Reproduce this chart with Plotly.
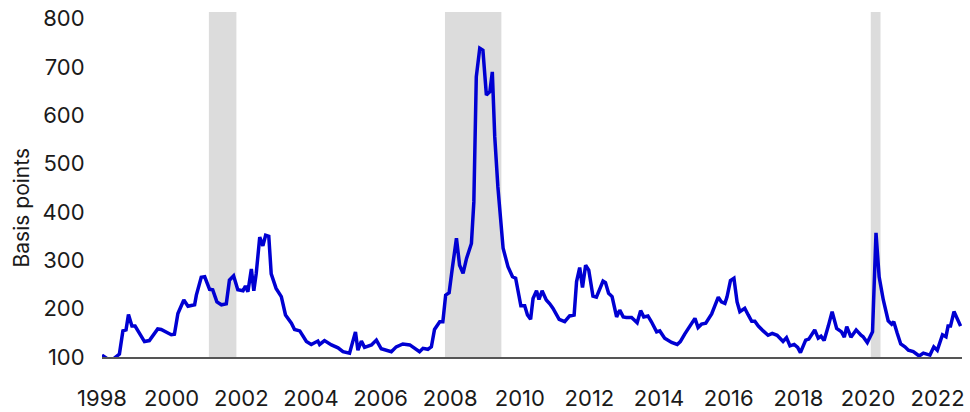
import plotly.graph_objects as go

# decimal year, spread in basis points
years = [
    1998.00, 1998.14, 1998.31, 1998.50, 1998.60, 1998.69, 1998.76, 1998.86, 1998.95,
    1999.22, 1999.36, 1999.60, 1999.70, 1999.99, 2000.08, 2000.18, 2000.35, 2000.47,
    2000.66, 2000.71, 2000.85, 2000.95, 2001.09, 2001.18, 2001.30, 2001.43, 2001.57,
    2001.66, 2001.78, 2001.90, 2002.05, 2002.12, 2002.19, 2002.29, 2002.36, 2002.43,
    2002.53, 2002.62, 2002.70, 2002.79, 2002.86, 2003.00, 2003.15, 2003.27, 2003.44,
    2003.53, 2003.68, 2003.87, 2004.01, 2004.20, 2004.25, 2004.39, 2004.59, 2004.78,
    2004.92, 2005.11, 2005.28, 2005.35, 2005.45, 2005.54, 2005.74, 2005.88, 2006.02,
    2006.17, 2006.31, 2006.45, 2006.64, 2006.84, 2006.98, 2007.12, 2007.22, 2007.36,
    2007.46, 2007.55, 2007.70, 2007.79, 2007.87, 2007.97, 2008.06, 2008.18, 2008.27,
    2008.37, 2008.47, 2008.61, 2008.68, 2008.75, 2008.85, 2008.94, 2009.04, 2009.14,
    2009.21, 2009.28, 2009.37, 2009.52, 2009.66, 2009.79, 2009.88, 2009.98, 2010.03,
    2010.14, 2010.22, 2010.31, 2010.38, 2010.48, 2010.55, 2010.64, 2010.76, 2010.86,
    2010.95, 2011.13, 2011.29, 2011.43, 2011.56, 2011.63, 2011.72, 2011.80, 2011.89,
    2011.98, 2012.10, 2012.20, 2012.30, 2012.39, 2012.46, 2012.55, 2012.65, 2012.78,
    2012.87, 2012.97, 2013.06, 2013.21, 2013.37, 2013.47, 2013.56, 2013.68, 2013.78,
    2013.93, 2014.02, 2014.16, 2014.36, 2014.52, 2014.61, 2014.74, 2015.03, 2015.12,
    2015.22, 2015.34, 2015.51, 2015.70, 2015.79, 2015.89, 2015.95, 2016.05, 2016.15,
    2016.24, 2016.32, 2016.46, 2016.56, 2016.66, 2016.75, 2016.85, 2016.99, 2017.13,
    2017.25, 2017.39, 2017.56, 2017.66, 2017.76, 2017.88, 2017.98, 2018.06, 2018.21,
    2018.30, 2018.47, 2018.57, 2018.65, 2018.74, 2018.86, 2018.97, 2019.10, 2019.24,
    2019.32, 2019.39, 2019.51, 2019.66, 2019.80, 2019.86, 2019.98, 2020.13, 2020.23,
    2020.32, 2020.44, 2020.58, 2020.68, 2020.74, 2020.84, 2020.94, 2021.06, 2021.16,
    2021.30, 2021.47, 2021.59, 2021.68, 2021.78, 2021.89, 2021.99, 2022.14, 2022.24,
    2022.30, 2022.37, 2022.47, 2022.56, 2022.66,
]
spread_bp = [
    104, 97, 95, 106, 154, 156, 188, 164, 164,
    132, 134, 158, 157, 146, 147, 190, 218, 205,
    208, 228, 265, 266, 240, 239, 214, 208, 210,
    259, 268, 239, 237, 247, 235, 282, 237, 273,
    348, 330, 352, 350, 272, 242, 225, 187, 170,
    157, 154, 132, 126, 133, 126, 134, 125, 119,
    111, 108, 152, 114, 133, 120, 125, 135, 117,
    113, 111, 121, 127, 125, 118, 111, 118, 116,
    121, 157, 173, 173, 228, 233, 283, 346, 290,
    273, 304, 335, 421, 680, 739, 735, 642, 649,
    690, 556, 452, 325, 287, 266, 263, 218, 206,
    206, 187, 178, 221, 237, 219, 237, 218, 210,
    201, 178, 173, 185, 187, 256, 285, 244, 290,
    280, 226, 224, 240, 257, 254, 232, 225, 183,
    197, 183, 182, 182, 171, 196, 183, 185, 173,
    152, 154, 139, 130, 126, 132, 148, 180, 161,
    168, 170, 189, 224, 214, 211, 224, 258, 263,
    214, 194, 201, 187, 174, 174, 164, 154, 145,
    149, 145, 132, 140, 123, 126, 120, 109, 135,
    137, 156, 139, 143, 134, 164, 194, 159, 152,
    141, 163, 141, 156, 145, 142, 130, 152, 357,
    266, 218, 175, 168, 173, 149, 127, 121, 114,
    111, 102, 108, 106, 104, 121, 114, 146, 142,
    164, 164, 194, 180, 164,
]

recession_start = [2001.07, 2007.85, 2020.08]
recession_end = [2001.86, 2009.47, 2020.36]

tick_years = [1998, 2000, 2002, 2004, 2006, 2008, 2010, 2012, 2014, 2016, 2018, 2020, 2022]
y_ticks = [100, 200, 300, 400, 500, 600, 700, 800]

FONT = "Inter"

fig = go.Figure()

for x0, x1 in zip(recession_start, recession_end):
    fig.add_vrect(x0=x0, x1=x1, fillcolor="#dcdcdc", line_width=0, layer="below")

fig.add_trace(
    go.Scatter(
        x=years,
        y=spread_bp,
        mode="lines",
        line=dict(color="#0000d2", width=3.5),
        showlegend=False,
    )
)

fig.add_annotation(
    text="Basis points",
    xref="paper", yref="paper",
    x=-0.0925, y=0.432,
    xanchor="center", yanchor="middle",
    textangle=-90,
    showarrow=False,
    font=dict(family=FONT, size=21, color="#1a1a1a"),
)

fig.update_layout(
    width=970,
    height=412,
    margin=dict(l=102, r=8, t=12, b=55),
    plot_bgcolor="white",
    paper_bgcolor="white",
    font=dict(family=FONT, size=22, color="#1a1a1a"),
)

fig.update_xaxes(
    range=[1998, 2022.7],
    tickvals=tick_years,
    ticktext=[str(y) for y in tick_years],
    showgrid=False,
    zeroline=False,
    showline=True,
    linecolor="#555555",
    linewidth=1.5,
    ticks="outside",
    ticklen=21,
    tickcolor="rgba(0,0,0,0)",
    automargin=False,
)

fig.update_yaxes(
    range=[100, 814],
    tickvals=y_ticks,
    showgrid=False,
    zeroline=False,
    showline=False,
    ticks="outside",
    ticklen=12,
    tickcolor="rgba(0,0,0,0)",
    automargin=False,
)

# drop the browser's default 8px body margin so the figure sits at the page corner
fig.write_html(
    "out.html",
    config={"displayModeBar": False},
    post_script="document.body.style.margin = '0';",
)
